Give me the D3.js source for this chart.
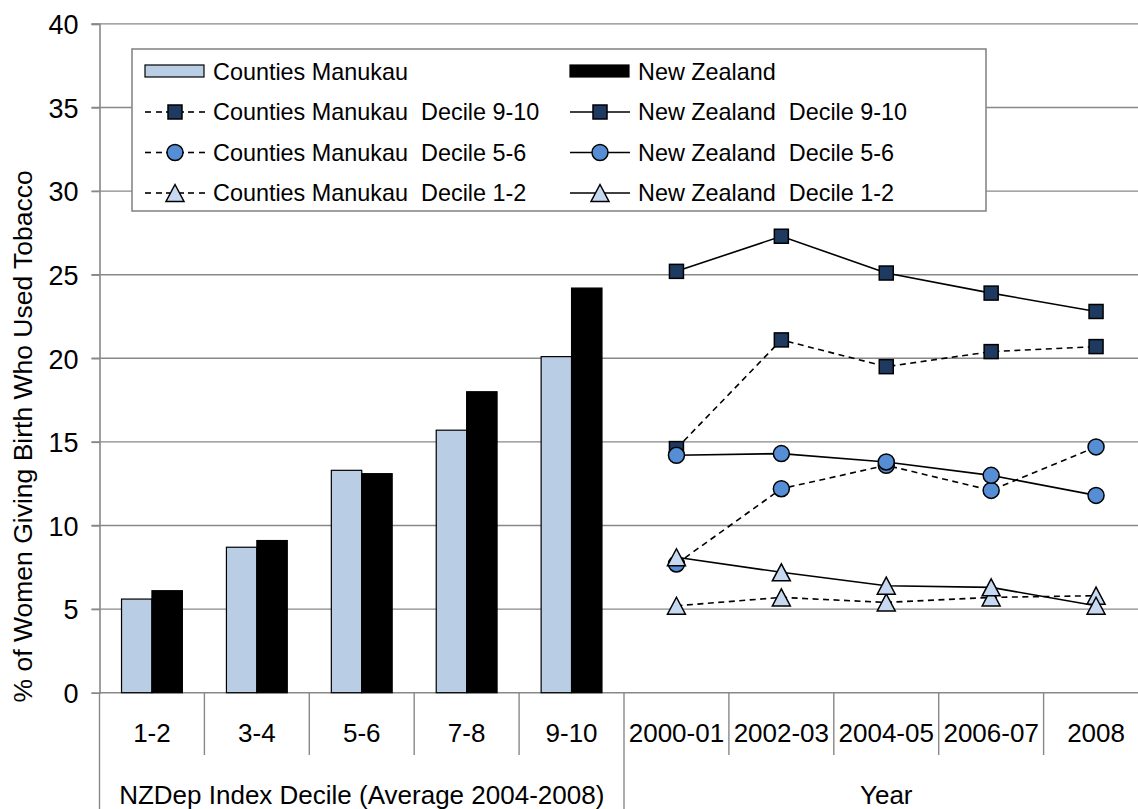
<!DOCTYPE html>
<html>
<head>
<meta charset="utf-8">
<script src="https://cdn.jsdelivr.net/npm/d3@7"></script>
<style>
html,body{margin:0;padding:0;background:#fff;}
svg{display:block;}
text{font-family:"Liberation Sans", Arial, sans-serif; fill:#000;}
</style>
</head>
<body>
<div id="chart"></div>
<script>
// ---------- DATA ----------
const decileCats = ["1-2", "3-4", "5-6", "7-8", "9-10"];
const yearCats = ["2000-01", "2002-03", "2004-05", "2006-07", "2008"];
const groupLabels = ["NZDep Index Decile (Average 2004-2008)", "Year"];

const cmBars = [5.6, 8.7, 13.3, 15.7, 20.1];
const nzBars = [6.1, 9.1, 13.1, 18.0, 24.2];

const cmDecile910 = [14.6, 21.1, 19.5, 20.4, 20.7];
const nzDecile910 = [25.2, 27.3, 25.1, 23.9, 22.8];
const cmDecile56 = [7.7, 12.2, 13.6, 12.1, 14.7];
const nzDecile56 = [14.2, 14.3, 13.8, 13.0, 11.8];
const cmDecile12 = [5.2, 5.7, 5.4, 5.7, 5.8];
const nzDecile12 = [8.1, 7.2, 6.4, 6.3, 5.2];

const yTicks = [0, 5, 10, 15, 20, 25, 30, 35, 40];

const seriesNames = {
  cmBar: "Counties Manukau", nzBar: "New Zealand",
  cm910: "Counties Manukau  Decile 9-10", nz910: "New Zealand  Decile 9-10",
  cm56: "Counties Manukau  Decile 5-6", nz56: "New Zealand  Decile 5-6",
  cm12: "Counties Manukau  Decile 1-2", nz12: "New Zealand  Decile 1-2"
};
const yTitle = "% of Women Giving Birth Who Used Tobacco";

// ---------- STYLE ----------
const W = 1138, H = 809;
const pLeft = 99.5, pRight = 1148.5, pTop = 23.9, pBottom = 692.7;
const gridCol = "#888888";
const cmBarCol = "#B9CDE5", nzBarCol = "#000000";
const sqCol = "#1F3A60", ciCol = "#558ED5", trCol = "#C6D9F1";
const axisFont = 26, yTickFont = 27, legendFont = 23.4;

const svg = d3.select("#chart").append("svg").attr("width", W).attr("height", H);

const allCats = decileCats.concat(yearCats);
const x = d3.scaleBand().domain(allCats).range([pLeft, pRight]).padding(0);
const y = d3.scaleLinear().domain([0, 40]).range([pBottom, pTop]);

// gridlines
svg.append("g").selectAll("line").data(yTicks.filter(d => d > 0)).join("line")
  .attr("x1", pLeft - 8).attr("x2", W + 20)
  .attr("y1", d => y(d)).attr("y2", d => y(d))
  .attr("stroke", gridCol).attr("stroke-width", 1.4);

// y axis
const yAxis = d3.axisLeft(y).tickValues(yTicks).tickSize(8).tickPadding(13).tickFormat(d3.format("d"));
const gy = svg.append("g").attr("transform", `translate(${pLeft},0)`).call(yAxis);
gy.select(".domain").attr("stroke", gridCol).attr("stroke-width", 1.6);
gy.selectAll(".tick line").attr("stroke", gridCol).attr("stroke-width", 1.4);
gy.selectAll(".tick text").attr("font-size", yTickFont).attr("font-family", '"Liberation Sans", Arial, sans-serif').attr("dy", "0.36em").attr("fill", "#000");

// y title
svg.append("text")
  .attr("transform", `translate(32,${(pTop + pBottom) / 2 + 78}) rotate(-90)`)
  .attr("text-anchor", "middle").attr("font-size", 26.5)
  .text(yTitle);

// x axis line
svg.append("line").attr("x1", pLeft).attr("x2", W + 20).attr("y1", pBottom).attr("y2", pBottom)
  .attr("stroke", gridCol).attr("stroke-width", 1.6);

// category dividers
const boundaries = allCats.map(c => x(c)).concat([pRight]);
svg.append("g").selectAll("line").data(boundaries).join("line")
  .attr("x1", d => d).attr("x2", d => d)
  .attr("y1", pBottom)
  .attr("y2", (d, i) => (i === 0 || i === 5 || i === 10) ? H + 5 : 755)
  .attr("stroke", gridCol).attr("stroke-width", 1.4);

// category labels
svg.append("g").selectAll("text").data(allCats).join("text")
  .attr("x", d => x(d) + x.bandwidth() / 2).attr("y", 733)
  .attr("dy", "0.36em").attr("text-anchor", "middle").attr("font-size", axisFont)
  .text(d => d);

// group labels
const groupSpans = [[x(decileCats[0]), x(yearCats[0])], [x(yearCats[0]), pRight]];
svg.append("g").selectAll("text").data(groupLabels).join("text")
  .attr("x", (d, i) => (groupSpans[i][0] + groupSpans[i][1]) / 2).attr("y", 795)
  .attr("dy", "0.36em").attr("text-anchor", "middle").attr("font-size", axisFont)
  .text(d => d);

// bars
const barW = x.bandwidth() * 0.29;
const barG = svg.append("g");
barG.selectAll("rect.cm").data(cmBars).join("rect").attr("class", "cm")
  .attr("x", (d, i) => x(decileCats[i]) + x.bandwidth() / 2 - barW)
  .attr("y", d => y(d)).attr("width", barW).attr("height", d => y(0) - y(d))
  .attr("fill", cmBarCol).attr("stroke", "#000").attr("stroke-width", 1.2);
barG.selectAll("rect.nz").data(nzBars).join("rect").attr("class", "nz")
  .attr("x", (d, i) => x(decileCats[i]) + x.bandwidth() / 2)
  .attr("y", d => y(d)).attr("width", barW).attr("height", d => y(0) - y(d))
  .attr("fill", nzBarCol).attr("stroke", "#000").attr("stroke-width", 1.2);

// marker helpers
function drawMarker(g, type, cx, cy) {
  if (type === "square") {
    g.append("rect").attr("x", cx - 7).attr("y", cy - 7).attr("width", 14).attr("height", 14)
      .attr("fill", sqCol).attr("stroke", "#000").attr("stroke-width", 1.5);
  } else if (type === "circle") {
    g.append("circle").attr("cx", cx).attr("cy", cy).attr("r", 8)
      .attr("fill", ciCol).attr("stroke", "#000").attr("stroke-width", 1.5);
  } else {
    const hw = 9, hh = 8.5;
    g.append("path").attr("d", `M${cx},${cy - hh}L${cx + hw},${cy + hh}L${cx - hw},${cy + hh}Z`)
      .attr("fill", trCol).attr("stroke", "#000").attr("stroke-width", 1.5).attr("stroke-linejoin", "miter");
  }
}

const lineSeries = [
  { vals: cmDecile910, type: "square", dash: true },
  { vals: nzDecile910, type: "square", dash: false },
  { vals: cmDecile56, type: "circle", dash: true },
  { vals: nzDecile56, type: "circle", dash: false },
  { vals: cmDecile12, type: "triangle", dash: true },
  { vals: nzDecile12, type: "triangle", dash: false }
];
const line = d3.line().x((d, i) => x(yearCats[i]) + x.bandwidth() / 2).y(d => y(d));
const linesG = svg.append("g");
lineSeries.forEach(s => {
  const g = linesG.append("g");
  g.append("path").attr("d", line(s.vals)).attr("fill", "none").attr("stroke", "#000")
    .attr("stroke-width", 1.6).attr("stroke-dasharray", s.dash ? "6,4.5" : null);
  s.vals.forEach((v, i) => drawMarker(g, s.type, x(yearCats[i]) + x.bandwidth() / 2, y(v)));
});

// legend
const lg = svg.append("g");
lg.append("rect").attr("x", 132).attr("y", 49).attr("width", 854).attr("height", 162)
  .attr("fill", "#fff").attr("stroke", gridCol).attr("stroke-width", 1.6);
const colX = [145, 570];
const rowY = [71.5, 112, 152.5, 193];
const legendItems = [
  { name: seriesNames.cmBar, kind: "bar", fill: cmBarCol, col: 0, row: 0 },
  { name: seriesNames.nzBar, kind: "bar", fill: nzBarCol, col: 1, row: 0 },
  { name: seriesNames.cm910, kind: "line", type: "square", dash: true, col: 0, row: 1 },
  { name: seriesNames.nz910, kind: "line", type: "square", dash: false, col: 1, row: 1 },
  { name: seriesNames.cm56, kind: "line", type: "circle", dash: true, col: 0, row: 2 },
  { name: seriesNames.nz56, kind: "line", type: "circle", dash: false, col: 1, row: 2 },
  { name: seriesNames.cm12, kind: "line", type: "triangle", dash: true, col: 0, row: 3 },
  { name: seriesNames.nz12, kind: "line", type: "triangle", dash: false, col: 1, row: 3 }
];
legendItems.forEach(it => {
  const x0 = colX[it.col], cy = rowY[it.row];
  const g = lg.append("g");
  if (it.kind === "bar") {
    g.append("rect").attr("x", x0).attr("y", cy - 6.5).attr("width", 59).attr("height", 12)
      .attr("fill", it.fill).attr("stroke", "#000").attr("stroke-width", 1.2);
  } else {
    if (it.dash) {
      [[x0, x0 + 6], [x0 + 11, x0 + 17], [x0 + 43, x0 + 49], [x0 + 54, x0 + 60]].forEach(seg => {
        g.append("line").attr("x1", seg[0]).attr("x2", seg[1]).attr("y1", cy).attr("y2", cy)
          .attr("stroke", "#000").attr("stroke-width", 1.6);
      });
      g.append("line").attr("x1", x0 + 21).attr("x2", x0 + 39).attr("y1", cy).attr("y2", cy)
        .attr("stroke", "#000").attr("stroke-width", 1.6);
    } else {
      g.append("line").attr("x1", x0).attr("x2", x0 + 60).attr("y1", cy).attr("y2", cy)
        .attr("stroke", "#000").attr("stroke-width", 1.6);
    }
    drawMarker(g, it.type, x0 + 30, cy);
  }
  g.append("text").attr("x", x0 + 68).attr("y", cy).attr("dy", "0.36em")
    .attr("font-size", legendFont).style("white-space", "pre").text(it.name);
});
</script>
</body>
</html>
